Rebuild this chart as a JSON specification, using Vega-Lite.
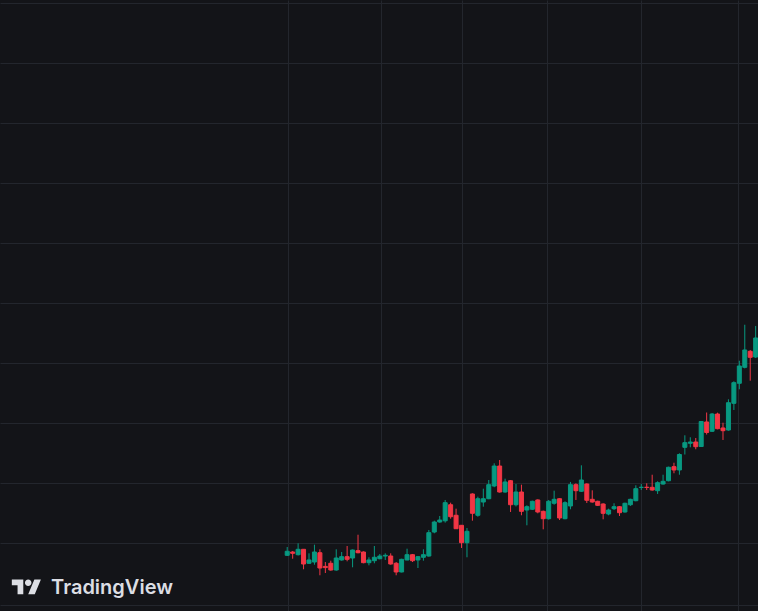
{
  "$schema": "https://vega.github.io/schema/vega-lite/v6.json",
  "width": 758,
  "height": 611,
  "autosize": {"type": "fit", "contains": "padding"},
  "padding": 0,
  "background": "#131418",
  "config": {
    "view": {"stroke": null, "fill": "#131418"},
    "axis": {"domain": false, "ticks": false, "labels": false, "title": null, "grid": true, "gridColor": "#23262d", "gridWidth": 1}
  },
  "datasets": {
    "candles": [
      {"i":0,"o":7.95,"h":9.33,"l":7.83,"c":8.62},
      {"i":1,"o":8.5,"h":8.67,"l":7.38,"c":8.28},
      {"i":2,"o":8.05,"h":9.95,"l":7.92,"c":8.95},
      {"i":3,"o":8.95,"h":8.95,"l":5.62,"c":6.5},
      {"i":4,"o":6.62,"h":8.28,"l":6.5,"c":7.17},
      {"i":5,"o":6.83,"h":9.72,"l":6.38,"c":8.5},
      {"i":6,"o":8.38,"h":8.95,"l":4.62,"c":5.83},
      {"i":7,"o":6.1,"h":6.83,"l":5.0,"c":5.9},
      {"i":8,"o":6.62,"h":7.05,"l":5.38,"c":5.5},
      {"i":9,"o":5.5,"h":8.95,"l":5.38,"c":7.5},
      {"i":10,"o":7.17,"h":8.5,"l":7.05,"c":7.72},
      {"i":11,"o":7.72,"h":9.5,"l":6.95,"c":7.28},
      {"i":12,"o":7.5,"h":8.92,"l":5.95,"c":8.83},
      {"i":13,"o":8.72,"h":11.38,"l":8.28,"c":8.38},
      {"i":14,"o":8.5,"h":8.6,"l":6.62,"c":6.72},
      {"i":15,"o":6.72,"h":7.62,"l":6.28,"c":7.17},
      {"i":16,"o":7.05,"h":9.5,"l":6.62,"c":7.62},
      {"i":17,"o":7.38,"h":8.17,"l":7.28,"c":7.83},
      {"i":18,"o":7.83,"h":8.28,"l":7.17,"c":7.95},
      {"i":19,"o":7.83,"h":8.28,"l":6.38,"c":6.5},
      {"i":20,"o":6.62,"h":6.83,"l":4.62,"c":5.17},
      {"i":21,"o":5.17,"h":7.38,"l":5.1,"c":7.28},
      {"i":22,"o":7.17,"h":9.05,"l":7.12,"c":8.05},
      {"i":23,"o":8.05,"h":8.17,"l":6.83,"c":7.05},
      {"i":24,"o":7.17,"h":7.83,"l":5.83,"c":7.72},
      {"i":25,"o":7.62,"h":8.95,"l":7.05,"c":8.05},
      {"i":26,"o":7.83,"h":12.17,"l":7.72,"c":11.72},
      {"i":27,"o":11.83,"h":13.72,"l":11.62,"c":13.5},
      {"i":28,"o":13.5,"h":14.5,"l":13.38,"c":13.83},
      {"i":29,"o":13.7,"h":17.17,"l":13.4,"c":16.72},
      {"i":30,"o":16.38,"h":16.72,"l":14.05,"c":14.38},
      {"i":31,"o":14.62,"h":15.72,"l":12.33,"c":12.38},
      {"i":32,"o":12.95,"h":13.0,"l":9.17,"c":10.05},
      {"i":33,"o":10.05,"h":12.5,"l":7.62,"c":11.95},
      {"i":34,"o":18.17,"h":18.28,"l":13.72,"c":14.95},
      {"i":35,"o":14.62,"h":17.72,"l":14.38,"c":17.38},
      {"i":36,"o":16.83,"h":19.05,"l":16.05,"c":17.38},
      {"i":37,"o":17.38,"h":20.5,"l":17.3,"c":19.72},
      {"i":38,"o":19.5,"h":23.28,"l":19.3,"c":22.83},
      {"i":39,"o":22.83,"h":23.83,"l":18.4,"c":18.5},
      {"i":40,"o":18.5,"h":20.72,"l":18.38,"c":20.17},
      {"i":41,"o":20.38,"h":20.5,"l":15.17,"c":16.38},
      {"i":42,"o":16.38,"h":19.83,"l":16.1,"c":18.5},
      {"i":43,"o":18.5,"h":19.72,"l":14.62,"c":15.28},
      {"i":44,"o":15.5,"h":16.28,"l":12.95,"c":16.05},
      {"i":45,"o":15.62,"h":17.05,"l":15.5,"c":16.95},
      {"i":46,"o":17.17,"h":17.28,"l":14.95,"c":15.17},
      {"i":47,"o":15.28,"h":15.4,"l":12.28,"c":14.05},
      {"i":48,"o":14.05,"h":17.17,"l":13.9,"c":16.95},
      {"i":49,"o":16.62,"h":18.72,"l":16.38,"c":17.28},
      {"i":50,"o":17.38,"h":17.45,"l":13.83,"c":14.17},
      {"i":51,"o":14.05,"h":16.95,"l":13.95,"c":16.72},
      {"i":52,"o":16.17,"h":20.17,"l":15.62,"c":19.72},
      {"i":53,"o":19.72,"h":19.95,"l":17.17,"c":18.72},
      {"i":54,"o":18.62,"h":22.95,"l":18.5,"c":20.5},
      {"i":55,"o":19.83,"h":19.95,"l":16.67,"c":17.12},
      {"i":56,"o":17.28,"h":18.78,"l":16.72,"c":16.83},
      {"i":57,"o":16.95,"h":17.05,"l":16.17,"c":16.28},
      {"i":58,"o":16.5,"h":16.62,"l":13.95,"c":14.95},
      {"i":59,"o":14.83,"h":15.72,"l":14.62,"c":15.5},
      {"i":60,"o":15.72,"h":16.62,"l":15.5,"c":16.05},
      {"i":61,"o":16.05,"h":16.17,"l":14.5,"c":15.05},
      {"i":62,"o":15.17,"h":16.72,"l":15.05,"c":16.62},
      {"i":63,"o":16.38,"h":17.38,"l":16.17,"c":17.28},
      {"i":64,"o":17.05,"h":19.62,"l":16.95,"c":19.05},
      {"i":65,"o":19.25,"h":19.83,"l":18.83,"c":19.3},
      {"i":66,"o":19.3,"h":19.95,"l":18.83,"c":19.25},
      {"i":67,"o":19.28,"h":21.38,"l":18.72,"c":18.83},
      {"i":68,"o":18.72,"h":20.28,"l":18.17,"c":20.05},
      {"i":69,"o":19.83,"h":21.38,"l":19.72,"c":20.28},
      {"i":70,"o":20.38,"h":22.72,"l":20.28,"c":22.62},
      {"i":71,"o":22.72,"h":23.38,"l":21.62,"c":22.17},
      {"i":72,"o":22.17,"h":24.95,"l":21.38,"c":24.75},
      {"i":73,"o":25.95,"h":27.95,"l":24.75,"c":26.72},
      {"i":74,"o":26.62,"h":27.62,"l":25.95,"c":26.83},
      {"i":75,"o":26.83,"h":27.5,"l":25.62,"c":26.05},
      {"i":76,"o":26.08,"h":30.28,"l":26.0,"c":30.25},
      {"i":77,"o":30.17,"h":31.75,"l":28.08,"c":28.42},
      {"i":78,"o":28.62,"h":31.67,"l":28.5,"c":31.5},
      {"i":79,"o":31.5,"h":31.72,"l":28.95,"c":29.05},
      {"i":80,"o":29.17,"h":30.05,"l":27.17,"c":28.72},
      {"i":81,"o":28.83,"h":33.95,"l":28.72,"c":33.38},
      {"i":82,"o":33.28,"h":36.95,"l":32.17,"c":36.72},
      {"i":83,"o":36.62,"h":40.38,"l":35.62,"c":39.5},
      {"i":84,"o":39.28,"h":46.38,"l":39.1,"c":42.17},
      {"i":85,"o":41.95,"h":42.17,"l":37.05,"c":40.95},
      {"i":86,"o":41.0,"h":46.17,"l":40.83,"c":44.17}
    ],
    "brand": [{"label": "TradingView"}]
  },
  "layer": [
    {
      "data": {"name": "candles"},
      "mark": {"type": "rule", "strokeWidth": 1, "clip": true},
      "encoding": {
        "x": {"field": "i", "type": "quantitative", "scale": {"domain": [-51.81, 85.51], "nice": false, "zero": false},
              "axis": {"values": [0.18, 17.21, 32.07, 47.64, 64.86, 82.79], "orient": "bottom"}},
        "y": {"field": "l", "type": "quantitative", "scale": {"domain": [-1.3333, 100.5], "nice": false, "zero": false},
              "axis": {"values": [-0.35, 10, 20, 30, 40, 50, 60, 70, 80, 90, 100], "orient": "right"}},
        "y2": {"field": "h"},
        "color": {"condition": {"test": "datum.c >= datum.o", "value": "#089981"}, "value": "#F23645"}
      }
    },
    {
      "data": {"name": "candles"},
      "mark": {"type": "bar", "size": 4, "strokeWidth": 1, "clip": true},
      "encoding": {
        "x": {"field": "i", "type": "quantitative"},
        "y": {"field": "o", "type": "quantitative"},
        "y2": {"field": "c"},
        "fill": {"condition": {"test": "datum.c >= datum.o", "value": "#089981"}, "value": "#F23645"},
        "stroke": {"condition": {"test": "datum.c >= datum.o", "value": "#089981"}, "value": "#F23645"}
      }
    },
    {
      "data": {"name": "brand"},
      "mark": {"type": "point", "filled": true, "size": 870, "opacity": 1, "color": "#dcdee4",
               "shape": "M-0.222 0.444H-0.611V-0.167H-1V-0.556H-0.222ZM0.556 0.444H0.111L0.528 -0.556H0.972ZM-0.111 -0.333A0.222 0.222 0 1 0 0.333 -0.333A0.222 0.222 0 1 0 -0.111 -0.333Z"},
      "encoding": {"x": {"datum": -47.85, "type": "quantitative"}, "y": {"datum": 2.55, "type": "quantitative"}}
    },
    {
      "data": {"name": "brand"},
      "mark": {"type": "text", "font": "Inter", "fontSize": 20, "fontWeight": 600, "color": "#dcdee4", "align": "left", "baseline": "alphabetic"},
      "encoding": {"x": {"datum": -43.35, "type": "quantitative"}, "y": {"datum": 1.5, "type": "quantitative"}, "text": {"field": "label"}}
    }
  ]
}
